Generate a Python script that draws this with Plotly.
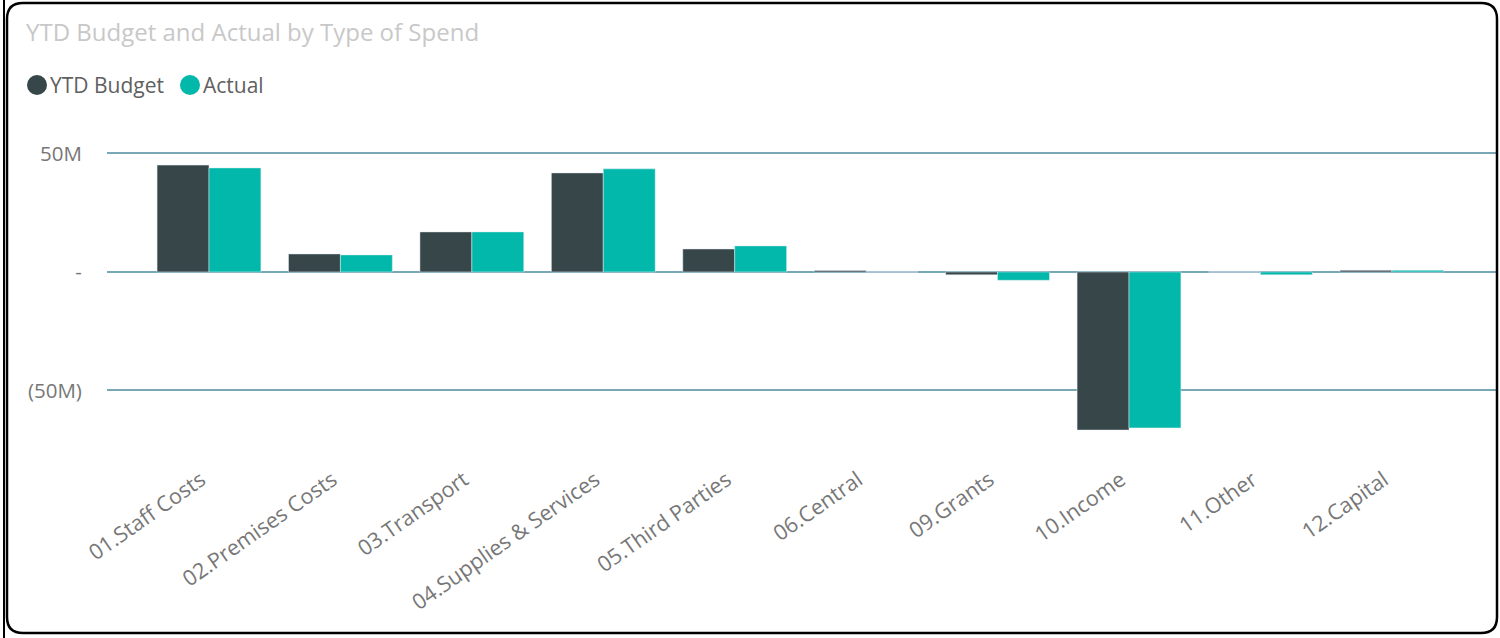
import plotly.graph_objects as go

categories = ["01.Staff Costs", "02.Premises Costs", "03.Transport", "04.Supplies & Services",
              "05.Third Parties", "06.Central", "09.Grants", "10.Income", "11.Other", "12.Capital"]
budget_m = [45.1, 7.6, 16.9, 41.8, 9.7, 0.6, -1.2, -66.7, 0.0, 0.7]
actual_m = [43.9, 7.2, 16.9, 43.5, 11.0, 0.0, -3.5, -65.8, -1.2, 0.7]
y_tickvals = [-50, 0, 50]
y_ticktext = ["(50M)", "-", "50M"]
series_names = ["YTD Budget", "Actual"]
colors = ["#374649", "#01B8AA"]

W, H = 1500, 638
L, R, T, B = 107, 3, 130, 198
PW, PH = W - L - R, H - T - B


def px(x):
    return (x - L) / PW


def py(y):
    return (H - B - y) / PH


FONT = "Open Sans"

fig = go.Figure()
fig.add_trace(go.Bar(x=categories, y=budget_m, name=series_names[0], marker_color=colors[0],
                     showlegend=False))
fig.add_trace(go.Bar(x=categories, y=actual_m, name=series_names[1], marker_color=colors[1],
                     showlegend=False))

grid = "#78a8b8"
fig.update_layout(
    width=W, height=H,
    margin=dict(l=L, r=R, t=T, b=B, pad=0),
    paper_bgcolor="white", plot_bgcolor="white",
    barmode="group", bargap=0.21, bargroupgap=0,
    font=dict(family=FONT, color="#777777"),
    xaxis=dict(range=[-0.776, 9.80], showgrid=False, zeroline=False, showline=False,
               tickangle=-35, tickfont=dict(size=21.5, color="#777777"),
               ticks="outside", ticklen=18, tickcolor="rgba(0,0,0,0)",
               ticklabelshift=-8),
    yaxis=dict(range=[-70.9, 59.9], tickvals=y_tickvals, ticktext=y_ticktext,
               showgrid=True, gridcolor=grid, gridwidth=2,
               zeroline=True, zerolinecolor=grid, zerolinewidth=2,
               showline=False, tickfont=dict(size=20.5, color="#777777"),
               ticks="outside", ticklen=20, tickcolor="rgba(0,0,0,0)"),
)

# Title
fig.add_annotation(text="YTD Budget and Actual by Type of Spend", xref="paper", yref="paper",
                   x=px(24), y=py(31), xanchor="left", yanchor="middle", showarrow=False,
                   font=dict(family=FONT, size=24, color="#c8c8c8"))

# Manual legend
leg = [(37, 48, series_names[0], colors[0]), (190, 201, series_names[1], colors[1])]
for cx, tx, name, col in leg:
    fig.add_shape(type="circle", xref="paper", yref="paper",
                  x0=px(cx - 10), x1=px(cx + 10), y0=py(85 - 10), y1=py(85 + 10),
                  fillcolor=col, line=dict(width=0))
    fig.add_annotation(text=name, xref="paper", yref="paper", x=px(tx), y=py(85),
                       xanchor="left", yanchor="middle", showarrow=False,
                       font=dict(family=FONT, size=21, color="#606060"))

# Frame: rounded rectangle
x0, x1, y0, y1, r = 7, 1497, 3, 633, 16
path = (f"M {px(x0 + r)},{py(y0)} L {px(x1 - r)},{py(y0)} "
        f"Q {px(x1)},{py(y0)} {px(x1)},{py(y0 + r)} "
        f"L {px(x1)},{py(y1 - r)} Q {px(x1)},{py(y1)} {px(x1 - r)},{py(y1)} "
        f"L {px(x0 + r)},{py(y1)} Q {px(x0)},{py(y1)} {px(x0)},{py(y1 - r)} "
        f"L {px(x0)},{py(y0 + r)} Q {px(x0)},{py(y0)} {px(x0 + r)},{py(y0)} Z")
fig.add_shape(type="path", path=path, xref="paper", yref="paper",
              line=dict(color="black", width=2.5), fillcolor="rgba(0,0,0,0)", layer="above")
fig.add_shape(type="line", xref="paper", yref="paper", x0=px(4), x1=px(4), y0=py(0), y1=py(638),
              line=dict(color="black", width=2))

fig.write_html("out.html")
